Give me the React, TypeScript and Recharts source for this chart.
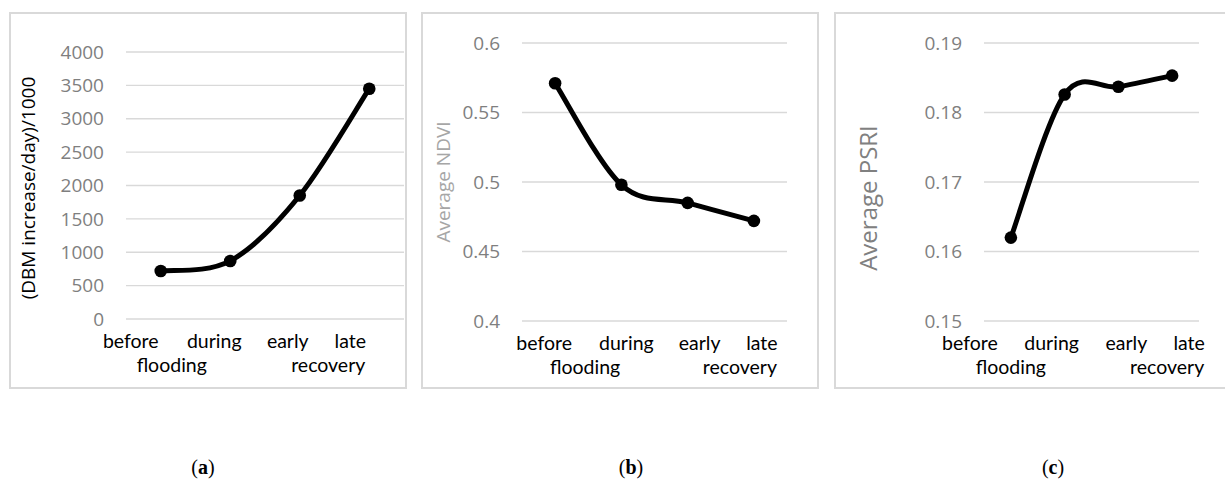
import { LineChart, Line, XAxis, YAxis, CartesianGrid } from "recharts";

const stages = ["before", "during", "early", "late"];
const stageLower = ["flooding", "", "", "recovery"];

const dbmValues = [720, 870, 1850, 3450];
const ndviValues = [0.571, 0.498, 0.485, 0.472];
const psriValues = [0.162, 0.1826, 0.1837, 0.1853];

const dbmTicks = [0, 500, 1000, 1500, 2000, 2500, 3000, 3500, 4000];
const ndviTicks = [0.4, 0.45, 0.5, 0.55, 0.6];
const psriTicks = [0.15, 0.16, 0.17, 0.18, 0.19];

const FONT = "'Open Sans', 'Noto Sans', sans-serif";
const CAT_FONT = "Lato, 'Open Sans', sans-serif";

// Excel-style smoothed line (cardinal spline, tension 0)
function excelCurve(context: any) {
  let pts: number[][] = [];
  return {
    areaStart() {},
    areaEnd() {},
    lineStart() {
      pts = [];
    },
    point(x: number, y: number) {
      pts.push([+x, +y]);
    },
    lineEnd() {
      if (!pts.length) return;
      context.moveTo(pts[0][0], pts[0][1]);
      for (let i = 0; i < pts.length - 1; i++) {
        const p0 = pts[Math.max(0, i - 1)];
        const p1 = pts[i];
        const p2 = pts[i + 1];
        const p3 = pts[Math.min(pts.length - 1, i + 2)];
        context.bezierCurveTo(
          p1[0] + (p2[0] - p0[0]) / 6,
          p1[1] + (p2[1] - p0[1]) / 6,
          p2[0] - (p3[0] - p1[0]) / 6,
          p2[1] - (p3[1] - p1[1]) / 6,
          p2[0],
          p2[1]
        );
      }
    },
  };
}

interface PanelProps {
  left: number;
  values: number[];
  ticks: number[];
  fmt: (v: number) => string;
  plotLeft: number;
  plotRight: number;
  plotTop: number;
  plotBottom: number;
  topDx: number[];
  lowerDx: number[];
  title: string;
  titleX: number;
  titleY: number;
  titleSize: number;
  titleColor: string;
}

function Panel(p: PanelProps) {
  const data = stages.map((s, i) => ({ stage: s, value: p.values[i] }));
  const W = 398;
  const H = 377;

  // one label per category, second line as a tspan
  const renderTick = (props: any) => {
    const { x, y, index } = props;
    return (
      <text
        x={x + p.topDx[index]}
        y={y + 29}
        textAnchor="middle"
        fill="#000"
        fontSize={19.5}
        fontFamily={CAT_FONT}
      >
        <tspan x={x + p.topDx[index]} y={y + 29}>
          {stages[index]}
        </tspan>
        {stageLower[index] && (
          <tspan x={x + p.lowerDx[index]} y={y + 52.5}>
            {stageLower[index]}
          </tspan>
        )}
      </text>
    );
  };

  return (
    <div
      style={{
        position: "absolute",
        left: p.left,
        top: 12,
        width: W,
        height: H,
        boxShadow: "inset 0 0 0 2px #d9d9d9",
      }}
    >
      <LineChart
        width={W}
        height={H}
        data={data}
        margin={{ top: p.plotTop, right: p.plotRight, bottom: 0, left: 0 }}
      >
        <CartesianGrid vertical={false} stroke="#d9d9d9" strokeWidth={1.3} />
        <XAxis
          dataKey="stage"
          scale="band"
          axisLine={false}
          tickLine={false}
          tickSize={0}
          tickMargin={0}
          height={p.plotBottom}
          interval={0}
          tick={renderTick}
        />
        <YAxis
          width={p.plotLeft}
          domain={[p.ticks[0], p.ticks[p.ticks.length - 1]]}
          ticks={p.ticks}
          tickFormatter={p.fmt}
          axisLine={false}
          tickLine={false}
          tickSize={0}
          tickMargin={22}
          tick={{ fill: "#7f7f7f", fontSize: 19, fontFamily: FONT }}
        />
        <Line
          type={excelCurve as any}
          dataKey="value"
          stroke="#000"
          strokeWidth={5}
          dot={{ r: 6.3, fill: "#000", stroke: "none" }}
          isAnimationActive={false}
        />
      </LineChart>
      <div
        style={{
          position: "absolute",
          left: p.titleX,
          top: p.titleY,
          transform: "translate(-50%, -50%) rotate(-90deg)",
          whiteSpace: "nowrap",
          fontFamily: FONT,
          fontSize: p.titleSize,
          color: p.titleColor,
          lineHeight: 1,
        }}
      >
        {p.title}
      </div>
    </div>
  );
}

function Caption({ x, letter }: { x: number; letter: string }) {
  return (
    <div
      style={{
        position: "absolute",
        left: x - 40,
        width: 80,
        top: 457,
        textAlign: "center",
        fontFamily: "'Liberation Serif', 'DejaVu Serif', serif",
        fontSize: 20,
        lineHeight: "20px",
        color: "#000",
      }}
    >
      (<b>{letter}</b>)
    </div>
  );
}

export default function App() {
  return (
    <div
      style={{
        position: "absolute",
        left: 0,
        top: 0,
        width: 1225,
        height: 481,
        background: "#fff",
        overflow: "hidden",
      }}
    >
      <Panel
        left={9}
        values={dbmValues}
        ticks={dbmTicks}
        fmt={(v) => String(v)}
        plotLeft={117}
        plotRight={3}
        plotTop={40}
        plotBottom={70}
        topDx={[-30, -16, -12, -19]}
        lowerDx={[11, 0, 0, -41]}
        title="(DBM increase/day)/1000"
        titleX={19}
        titleY={176}
        titleSize={19}
        titleColor="#000"
      />
      <Panel
        left={421}
        values={ndviValues}
        ticks={ndviTicks}
        fmt={(v) => String(v)}
        plotLeft={101}
        plotRight={32}
        plotTop={31}
        plotBottom={68}
        topDx={[-11, 5, 12, 8]}
        lowerDx={[30, 0, 0, -14]}
        title="Average NDVI"
        titleX={22}
        titleY={170}
        titleSize={19}
        titleColor="#a6a6a6"
      />
      <Panel
        left={834}
        values={psriValues}
        ticks={psriTicks}
        fmt={(v) => v.toFixed(2)}
        plotLeft={150}
        plotRight={33}
        plotTop={31}
        plotBottom={68}
        topDx={[-41, -13, 8, 17]}
        lowerDx={[0, 0, 0, -5]}
        title="Average PSRI"
        titleX={34}
        titleY={186}
        titleSize={24}
        titleColor="#808080"
      />
      <Caption x={203} letter="a" />
      <Caption x={631} letter="b" />
      <Caption x={1053} letter="c" />
    </div>
  );
}
